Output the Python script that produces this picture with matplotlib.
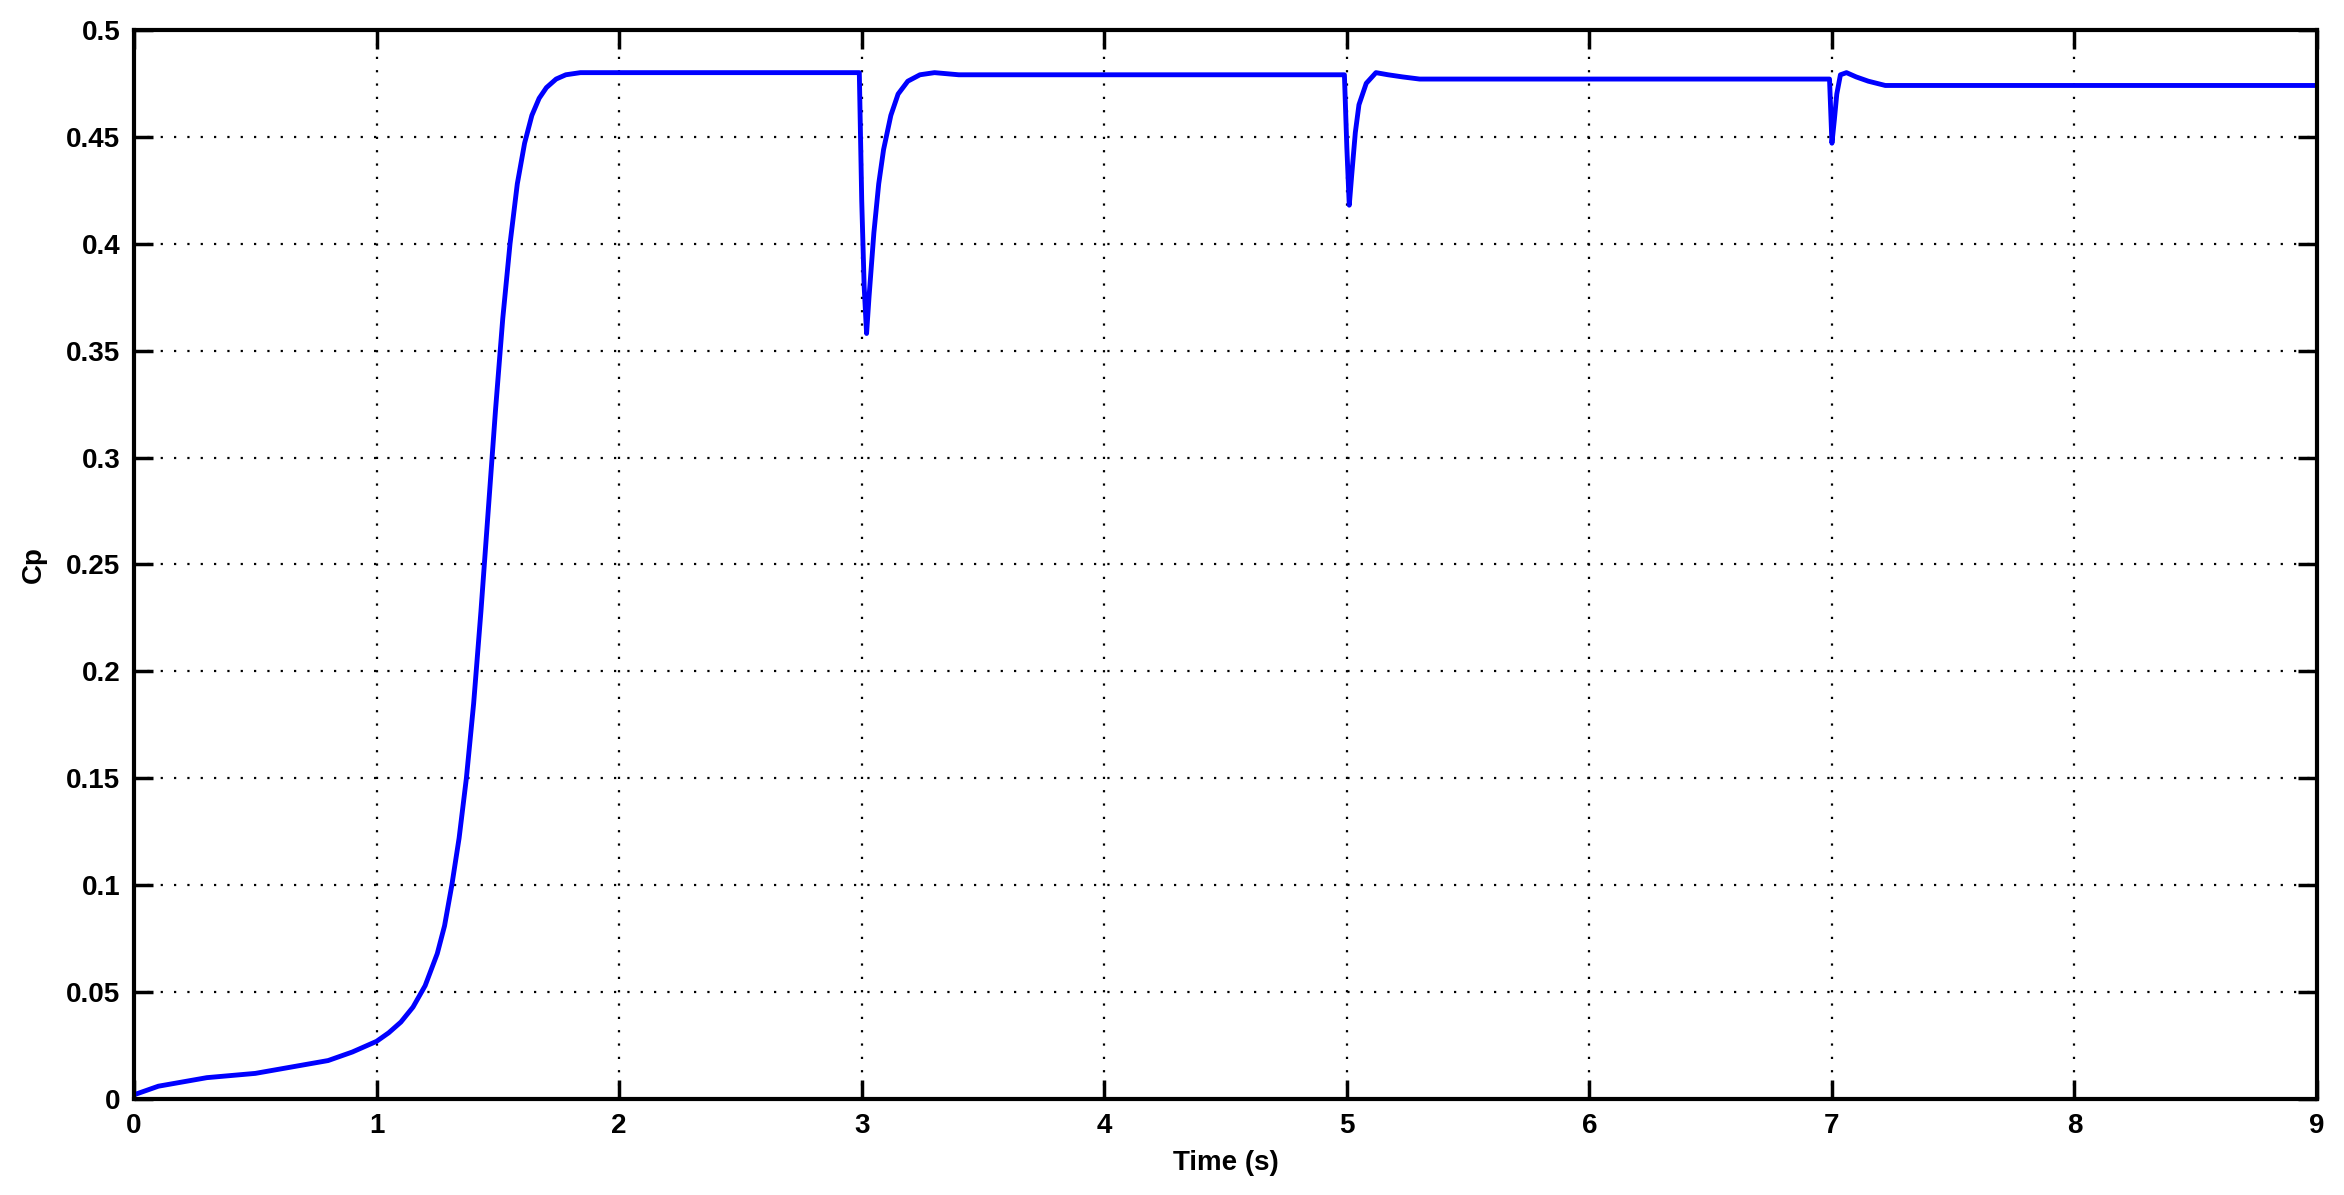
import numpy as np
import matplotlib
matplotlib.use('Agg')
import matplotlib.pyplot as plt

# Cp response (time in s)
time = [0.0, 0.05, 0.1, 0.2, 0.3, 0.4, 0.5, 0.6, 0.7, 0.8, 0.9, 1.0, 1.05, 1.1, 1.15, 1.2,
        1.25, 1.28, 1.31, 1.34, 1.37, 1.4, 1.43, 1.46, 1.49, 1.52, 1.55, 1.58, 1.61,
        1.64, 1.67, 1.7, 1.74, 1.78, 1.84, 1.9, 2.0,
        2.99, 3.0, 3.01, 3.02, 3.03, 3.05, 3.07, 3.09, 3.12, 3.15, 3.19, 3.24, 3.3, 3.4,
        4.99, 5.0, 5.01, 5.02, 5.035, 5.05, 5.08, 5.12, 5.17, 5.23, 5.3,
        6.99, 7.0, 7.01, 7.02, 7.035, 7.06, 7.1, 7.15, 7.22,
        9.0]
cp = [0.002, 0.004, 0.006, 0.008, 0.010, 0.011, 0.012, 0.014, 0.016, 0.018, 0.022, 0.027, 0.031, 0.036, 0.043, 0.053,
      0.068, 0.081, 0.100, 0.122, 0.150, 0.185, 0.228, 0.275, 0.322, 0.365, 0.400, 0.428, 0.447,
      0.460, 0.468, 0.473, 0.477, 0.479, 0.480, 0.480, 0.480,
      0.480, 0.420, 0.380, 0.358, 0.375, 0.405, 0.428, 0.444, 0.460, 0.470, 0.476, 0.479, 0.480, 0.479,
      0.479, 0.445, 0.418, 0.432, 0.452, 0.465, 0.475, 0.480, 0.479, 0.478, 0.477,
      0.477, 0.447, 0.458, 0.470, 0.479, 0.480, 0.478, 0.476, 0.474,
      0.474]

xticks = [0, 1, 2, 3, 4, 5, 6, 7, 8, 9]
yticks = [0, 0.05, 0.1, 0.15, 0.2, 0.25, 0.3, 0.35, 0.4, 0.45, 0.5]
ytick_labels = ['0', '0.05', '0.1', '0.15', '0.2', '0.25', '0.3', '0.35', '0.4', '0.45', '0.5']

plt.rcParams['font.family'] = ['Liberation Sans', 'DejaVu Sans']

fig = plt.figure(figsize=(23.44, 11.95), dpi=100)
ax = fig.add_axes([0.0572, 0.0803, 0.9313, 0.8947])

ax.plot(time, cp, color='#0000ff', lw=3.5, solid_joinstyle='round')

ax.set_xlim(0, 9)
ax.set_ylim(0, 0.5)
ax.set_xticks(xticks)
ax.set_yticks(yticks)
ax.set_yticklabels(ytick_labels)

ax.grid(True, color='black', linestyle=(0, (1, 5)), linewidth=1.6)
ax.tick_params(direction='in', length=14, width=2.5, top=True, right=True,
               labelsize=20, pad=10)
for lab in ax.get_xticklabels() + ax.get_yticklabels():
    lab.set_fontweight('bold')
for s in ax.spines.values():
    s.set_linewidth(3)

ax.set_xlabel('Time (s)', fontsize=20, fontweight='bold', labelpad=8)
ax.set_ylabel('Cp', fontsize=20, fontweight='bold', labelpad=14)

fig.savefig('out.png', dpi=100, facecolor='white')
